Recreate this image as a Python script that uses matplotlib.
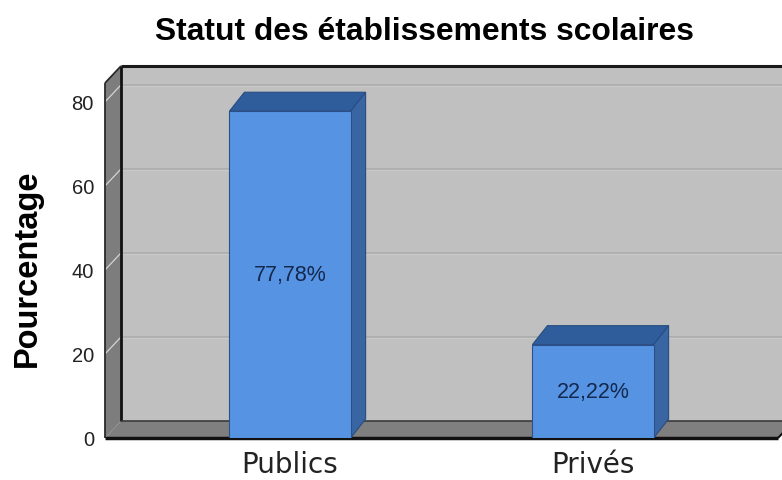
import numpy as np
import matplotlib.pyplot as plt
from matplotlib.patches import Polygon

# chart data
categories = ['Publics', 'Privés']
values = [77.78, 22.22]
yticks = [0, 20, 40, 60, 80]
title = 'Statut des établissements scolaires'
ylabel = 'Pourcentage'

# 3d look: depth offsets in data units
xl, xr = -0.6106, 1.6106
ymax = 84.5
px_x = 303.0      # pixels per category unit
px_y = 4.2        # pixels per percent
dxw, dyw = 16 / px_x, 17 / px_y   # walls
dxb, dyb = 15 / px_x, 19 / px_y   # bars
bw = 0.4

fig = plt.figure(figsize=(7.82, 4.81), dpi=100)
ax = fig.add_axes([105 / 782, 42 / 481, 673 / 782, 355 / 481])
ax.set_xlim(xl, xr)
ax.set_ylim(0, ymax)
for s in ax.spines.values():
    s.set_visible(False)
ax.patch.set_visible(False)

# back wall, floor, left wall
back = Polygon([(xl + dxw, dyw), (xr + dxw, dyw), (xr + dxw, ymax + dyw), (xl + dxw, ymax + dyw)],
               closed=True, fc='#c0c0c0', ec='none', zorder=1, clip_on=False)
floor = Polygon([(xl, 0), (xr, 0), (xr + dxw, dyw), (xl + dxw, dyw)],
                closed=True, fc='#7f7f7f', ec='none', zorder=1, clip_on=False)
left = Polygon([(xl, 0), (xl + dxw, dyw), (xl + dxw, ymax + dyw), (xl, ymax)],
               closed=True, fc='#7d7d7d', ec='none', zorder=1, clip_on=False)
for p in (back, floor, left):
    ax.add_patch(p)

# grid lines on back wall and left wall
for t in yticks[1:]:
    ax.plot([xl + dxw, xr + dxw], [t + dyw, t + dyw], color='#acacac', lw=1.2, zorder=2, clip_on=False)
    ax.plot([xl + dxw, xr + dxw], [t + dyw - 0.3, t + dyw - 0.3], color='#cacaca', lw=0.8, zorder=2, clip_on=False)
    ax.plot([xl, xl + dxw], [t, t + dyw], color='#d4d4d4', lw=0.9, zorder=2, clip_on=False)

# edges
k = dict(clip_on=False, solid_capstyle='butt')
ax.plot([xl + dxw, xr + dxw], [ymax + dyw, ymax + dyw], color='#1a1a1a', lw=2.2, zorder=2, **k)
ax.plot([xl + dxw, xl + dxw], [dyw, ymax + dyw], color='#111111', lw=2.0, zorder=2, **k)
ax.plot([xl + dxw, xr + dxw], [dyw, dyw], color='#3a3a3a', lw=1.2, zorder=2, **k)
ax.plot([xl, xl], [0, ymax], color='#2a2a2a', lw=1.3, zorder=2, **k)
ax.plot([xl, xl + dxw], [ymax, ymax + dyw], color='#2a2a2a', lw=1.3, zorder=2, **k)
ax.plot([xl, xr], [0, 0], color='#111111', lw=2.5, zorder=2, **k)
ax.plot([xr, xr + dxw], [0, dyw], color='#111111', lw=1.5, zorder=2, **k)

# bars
x = np.arange(len(categories))
ax.bar(x, values, width=bw, color='#5694e3', edgecolor='#2c4f85', linewidth=0.8, zorder=4)
for xi, v in zip(x, values):
    top = Polygon([(xi - bw / 2, v), (xi + bw / 2, v), (xi + bw / 2 + dxb, v + dyb), (xi - bw / 2 + dxb, v + dyb)],
                  closed=True, fc='#2f5c9a', ec='#284d82', lw=0.8, zorder=3, clip_on=False)
    side = Polygon([(xi + bw / 2, 0), (xi + bw / 2 + dxb, dyb), (xi + bw / 2 + dxb, v + dyb), (xi + bw / 2, v)],
                   closed=True, fc='#3a65a3', ec='#284d82', lw=0.8, zorder=3, clip_on=False)
    ax.add_patch(top)
    ax.add_patch(side)
    lab = f'{v:.2f}'.replace('.', ',') + '%'
    ax.text(xi, v / 2, lab, ha='center', va='center', fontsize=15.5,
            family='Liberation Sans', color='#14284d', zorder=5)

ax.set_xticks(x)
ax.set_xticklabels(categories, family='DejaVu Sans', fontsize=20, color='#222222')
ax.set_yticks(yticks)
ax.set_yticklabels([str(t) for t in yticks], family='Liberation Sans', fontsize=14.5, color='#222222')
ax.tick_params(axis='both', length=0)
ax.tick_params(axis='y', pad=8)
ax.tick_params(axis='x', pad=9)

fig.text(424 / 782, 1 - 32 / 481, title, ha='center', va='center', fontsize=22.9,
         fontweight='bold', family='Liberation Sans')
fig.text(27 / 782, 1 - 268 / 481, ylabel, ha='center', va='center', rotation=90,
         fontsize=23.5, fontweight='bold', family='Liberation Sans')

fig.savefig('out.png', dpi=100)
